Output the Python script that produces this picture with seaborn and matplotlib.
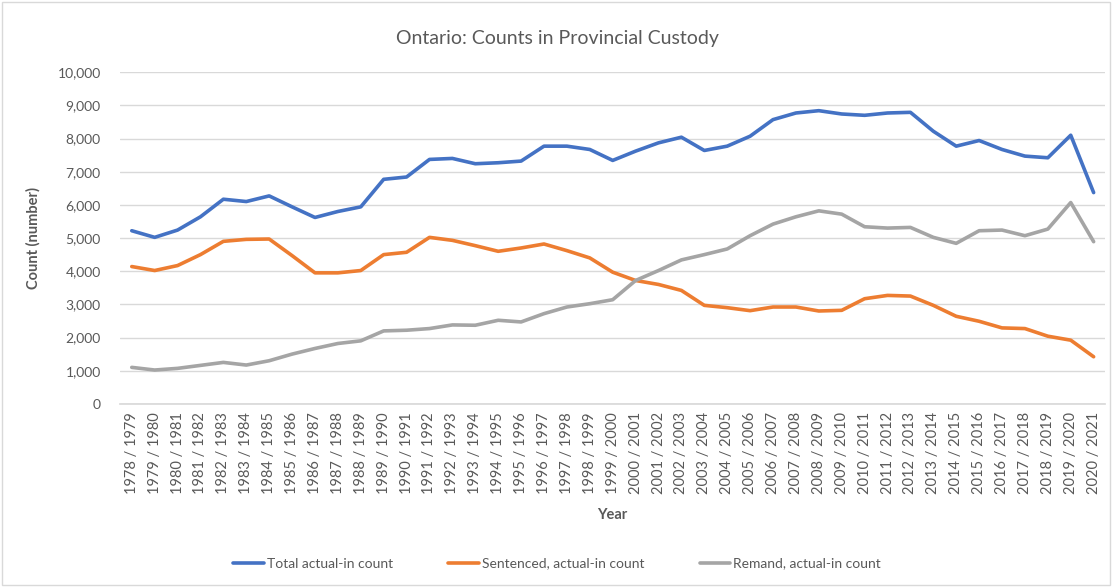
"""
Ontario: Counts in Provincial Custody
Líneas de conteo total, sentenciados y remand (1978/1979 - 2020/2021)
"""

import pandas as pd
import numpy as np
import matplotlib.pyplot as plt
import seaborn as sns

# DATOS
anios = [f'{a} / {a + 1}' for a in range(1978, 2021)]

total = [5220, 5020, 5240, 5640, 6170, 6100, 6270, 5940, 5620, 5800,
         5940, 6770, 6840, 7370, 7400, 7240, 7270, 7320, 7770, 7770,
         7670, 7340, 7620, 7870, 8040, 7640, 7770, 8070, 8570, 8770,
         8840, 8740, 8700, 8770, 8790, 8220, 7770, 7940, 7670, 7470,
         7420, 8100, 6370]

sentenced = [4140, 4020, 4170, 4500, 4900, 4960, 4970, 4470, 3950, 3950,
             4020, 4500, 4570, 5020, 4930, 4770, 4600, 4700, 4820, 4620,
             4400, 3970, 3720, 3600, 3420, 2970, 2900, 2810, 2920, 2920,
             2800, 2820, 3170, 3270, 3250, 2970, 2640, 2490, 2290, 2270,
             2040, 1920, 1420]

remand = [1100, 1020, 1070, 1160, 1250, 1170, 1300, 1500, 1670, 1820,
          1900, 2200, 2220, 2270, 2380, 2370, 2520, 2470, 2720, 2920,
          3020, 3140, 3720, 4020, 4340, 4500, 4670, 5070, 5420, 5640,
          5820, 5720, 5340, 5300, 5320, 5020, 4840, 5220, 5240, 5070,
          5270, 6070, 4890]

series = ['Total actual-in count', 'Sentenced, actual-in count', 'Remand, actual-in count']
colores = ['#4472C4', '#ED7D31', '#A5A5A5']
texto_gris = '#595959'

# armar dataframe largo
df = pd.DataFrame({
    'pos': np.tile(np.arange(len(anios)), 3),
    'Count': total + sentenced + remand,
    'Serie': np.repeat(series, len(anios)),
})

sns.set_theme(style='white')
plt.rcParams['font.family'] = ['Lato', 'DejaVu Sans']

fig = plt.figure(figsize=(11.14, 5.87), dpi=100)
ax = fig.add_axes([0.108, 0.312, 0.884, 0.565])

sns.lineplot(data=df, x='pos', y='Count', hue='Serie', hue_order=series,
             palette=colores, linewidth=2.6, ax=ax, legend=True)

# ejes
ax.set_xlim(-0.5, len(anios) - 0.5)
ax.set_ylim(0, 10000)
ax.set_yticks(range(0, 10001, 1000))
ax.set_yticklabels([f'{v:,}' for v in range(0, 10001, 1000)], fontsize=10, color=texto_gris)
ax.set_xticks(range(len(anios)))
ax.set_xticklabels(anios, rotation=90, fontsize=10.5, color=texto_gris)
ax.tick_params(axis='x', length=0, pad=6)
ax.tick_params(axis='y', length=0, pad=14)
ax.grid(axis='y', color='#D9D9D9', linewidth=1)
ax.set_axisbelow(True)
for lado in ['top', 'right', 'left']:
    ax.spines[lado].set_visible(False)
ax.spines['bottom'].set_color('#D9D9D9')

ax.set_xlabel('Year', fontsize=10.5, fontweight='bold', color=texto_gris, labelpad=10)
ax.set_ylabel('Count (number)', fontsize=10.5, fontweight='bold', color=texto_gris, labelpad=12)

fig.text(0.5, 0.935, 'Ontario: Counts in Provincial Custody', ha='center', va='center',
         fontsize=14, color=texto_gris)

# leyenda abajo
handles, labels = ax.get_legend_handles_labels()
ax.legend(handles, labels, loc='center', bbox_to_anchor=(0.5, 0.04),
          bbox_transform=fig.transFigure, ncol=3, frameon=False,
          fontsize=10, handlelength=2.2, handletextpad=0.2, columnspacing=4,
          labelcolor=texto_gris)

# borde del área del gráfico
fig.patches.append(plt.Rectangle((0.002, 0.003), 0.994, 0.994, transform=fig.transFigure,
                                 fill=False, edgecolor='#D9D9D9', linewidth=1))

plt.savefig('out.png', dpi=100)
plt.close()
